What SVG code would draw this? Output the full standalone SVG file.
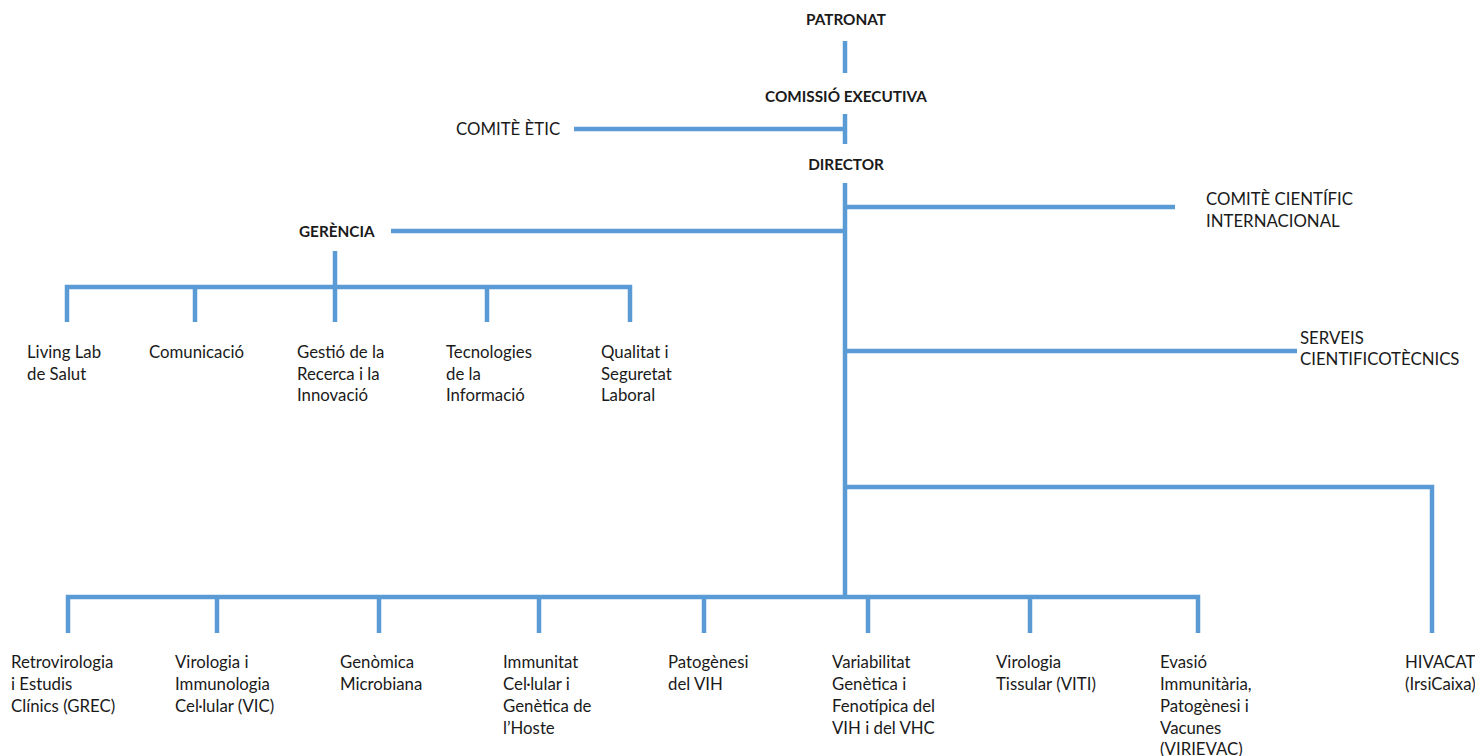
<svg xmlns="http://www.w3.org/2000/svg" width="1475" height="756" viewBox="0 0 1475 756">
<style>
text{font-family:"Lato","Open Sans","Liberation Sans",sans-serif;font-size:16.8px;fill:#1a1a1a}
.b{font-weight:bold;font-size:15.3px}
.c{text-anchor:middle}
#connectors line,#connectors path{stroke:#5b9bd5;stroke-width:4.5;fill:none}
</style>
<rect width="1475" height="756" fill="#fff"/>
<g id="connectors">
<line x1="845" y1="41" x2="845" y2="73"/>
<line x1="845" y1="114" x2="845" y2="144"/>
<line x1="574" y1="129" x2="845" y2="129"/>
<line x1="845" y1="183" x2="845" y2="599"/>
<line x1="845" y1="207" x2="1175" y2="207"/>
<line x1="391" y1="231" x2="845" y2="231"/>
<line x1="335" y1="251" x2="335" y2="287"/>
<path d="M67 322V287H630V322"/>
<line x1="195" y1="287" x2="195" y2="322"/>
<line x1="487" y1="287" x2="487" y2="322"/>
<line x1="335" y1="287" x2="335" y2="322"/>
<line x1="845" y1="351" x2="1297" y2="351"/>
<path d="M845 487H1432V633"/>
<path d="M68 633V597H1198V633"/>
<line x1="217" y1="597" x2="217" y2="633"/>
<line x1="379" y1="597" x2="379" y2="633"/>
<line x1="539" y1="597" x2="539" y2="633"/>
<line x1="704" y1="597" x2="704" y2="633"/>
<line x1="868" y1="597" x2="868" y2="633"/>
<line x1="1030" y1="597" x2="1030" y2="633"/>
</g>
<g id="patronat"><text class="b c" x="846" y="25">PATRONAT</text></g>
<g id="comissio"><text class="b c" x="846" y="102">COMISSIÓ EXECUTIVA</text></g>
<g id="comite-etic"><text x="456" y="135">COMITÈ ÈTIC</text></g>
<g id="director"><text class="b c" x="846" y="170">DIRECTOR</text></g>
<g id="gerencia"><text class="b" x="299" y="237">GERÈNCIA</text></g>
<g id="comite-cientific"><text x="1206" y="205">COMITÈ CIENTÍFIC</text><text x="1206" y="227">INTERNACIONAL</text></g>
<g id="serveis"><text x="1300" y="344">SERVEIS</text><text x="1300" y="365">CIENTIFICOTÈCNICS</text></g>
<g id="living-lab"><text x="27" y="358">Living Lab</text><text x="27" y="380">de Salut</text></g>
<g id="comunicacio"><text x="149" y="358">Comunicació</text></g>
<g id="gestio"><text x="297" y="358">Gestió de la</text><text x="297" y="380">Recerca i la</text><text x="297" y="401">Innovació</text></g>
<g id="tecnologies"><text x="446" y="358">Tecnologies</text><text x="446" y="380">de la</text><text x="446" y="401">Informació</text></g>
<g id="qualitat"><text x="601" y="358">Qualitat i</text><text x="601" y="380">Seguretat</text><text x="601" y="401">Laboral</text></g>
<g id="grec"><text x="11" y="668">Retrovirologia</text><text x="11" y="690">i Estudis</text><text x="11" y="712">Clínics (GREC)</text></g>
<g id="vic"><text x="175" y="668">Virologia i</text><text x="175" y="690">Immunologia</text><text x="175" y="712">Cel·lular (VIC)</text></g>
<g id="genomica"><text x="340" y="668">Genòmica</text><text x="340" y="690">Microbiana</text></g>
<g id="immunitat"><text x="503" y="668">Immunitat</text><text x="503" y="690">Cel·lular i</text><text x="503" y="712">Genètica de</text><text x="503" y="734">l’Hoste</text></g>
<g id="patogenesi"><text x="668" y="668">Patogènesi</text><text x="668" y="690">del VIH</text></g>
<g id="variabilitat"><text x="832" y="668">Variabilitat</text><text x="832" y="690">Genètica i</text><text x="832" y="712">Fenotípica del</text><text x="832" y="734">VIH i del VHC</text></g>
<g id="viti"><text x="996" y="668">Virologia</text><text x="996" y="690">Tissular (VITI)</text></g>
<g id="virievac"><text x="1160" y="668">Evasió</text><text x="1160" y="690">Immunitària,</text><text x="1160" y="712">Patogènesi i</text><text x="1160" y="734">Vacunes</text><text x="1160" y="755">(VIRIEVAC)</text></g>
<g id="hivacat"><text x="1405" y="668">HIVACAT</text><text x="1405" y="690">(IrsiCaixa)</text></g>
</svg>
